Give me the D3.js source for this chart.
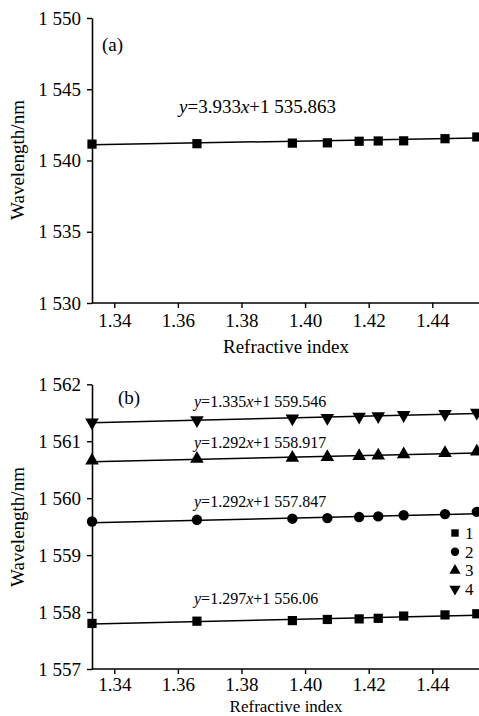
<!DOCTYPE html>
<html>
<head>
<meta charset="utf-8">
<script src="https://cdn.jsdelivr.net/npm/d3@7"></script>
<style>
  html, body { margin: 0; padding: 0; background: #ffffff; }
  svg { display: block; }
  text { font-family: "Liberation Serif", "Times New Roman", serif; fill: #000; }
</style>
</head>
<body>
<svg id="chart" width="479" height="716"></svg>
<script>
// ---- data ----
const refractiveIndex = [1.333, 1.366, 1.396, 1.407, 1.417, 1.423, 1.431, 1.444, 1.454];
const panelAValues = [1541.15, 1541.18, 1541.22, 1541.24, 1541.35, 1541.37, 1541.38, 1541.53, 1541.65];
const series1 = [1557.80, 1557.84, 1557.85, 1557.87, 1557.88, 1557.89, 1557.93, 1557.95, 1557.97];
const series2 = [1559.59, 1559.62, 1559.64, 1559.65, 1559.67, 1559.68, 1559.70, 1559.72, 1559.76];
const series3 = [1560.66, 1560.69, 1560.71, 1560.72, 1560.74, 1560.75, 1560.77, 1560.79, 1560.82];
const series4 = [1561.33, 1561.37, 1561.40, 1561.41, 1561.43, 1561.44, 1561.46, 1561.48, 1561.50];
const seriesNames = ["1", "2", "3", "4"];
const fitA = { slope: 3.933, intercept: 1535.863, label: ["3.933", "+1 535.863"] };
const fitsB = [
  { slope: 1.297, intercept: 1556.06, label: ["1.297", "+1 556.06"] },
  { slope: 1.292, intercept: 1557.847, label: ["1.292", "+1 557.847"] },
  { slope: 1.292, intercept: 1558.917, label: ["1.292", "+1 558.917"] },
  { slope: 1.335, intercept: 1559.546, label: ["1.335", "+1 559.546"] }
];
const xTicks = [1.34, 1.36, 1.38, 1.40, 1.42, 1.44];
const yTicksA = [1530, 1535, 1540, 1545, 1550];
const yTicksB = [1557, 1558, 1559, 1560, 1561, 1562];
const xTitle = "Refractive index";
const yTitle = "Wavelength/nm";

// ---- setup ----
const svg = d3.select("#chart");
const locale = d3.formatLocale({ decimal: ".", thousands: " ", grouping: [3], currency: ["", ""] });
const yFmt = locale.format(",d");
const xFmt = d3.format(".2f");
const FS = 19;

const x = d3.scaleLinear().domain([1.333, 1.455]).range([92, 480]);
const yA = d3.scaleLinear().domain([1530, 1550]).range([303, 18]);
const yB = d3.scaleLinear().domain([1557, 1562]).range([669, 384.3]);

function drawAxes(y, yTicks, bottom, xPad, titleY, titleFs, titleCy) {
  const gx = svg.append("g").attr("transform", `translate(0,${bottom})`)
    .call(d3.axisBottom(x).tickValues(xTicks).tickFormat(xFmt).tickSize(5).tickPadding(xPad).tickSizeOuter(0));
  const gy = svg.append("g").attr("transform", `translate(92,0)`)
    .call(d3.axisLeft(y).tickValues(yTicks).tickFormat(yFmt).tickSize(5).tickPadding(6).tickSizeOuter(0));
  [gx, gy].forEach(g => {
    g.select(".domain").attr("stroke", "#000").attr("stroke-width", 1.6);
    g.selectAll(".tick line").attr("stroke", "#000").attr("stroke-width", 1.4);
    g.selectAll(".tick text").attr("font-family", "Liberation Serif").attr("font-size", FS).attr("fill", "#000");
  });
  gx.select(".domain").attr("d", `M92,0H480`);
  svg.append("text").attr("x", 286).attr("y", titleY)
    .attr("text-anchor", "middle").attr("font-size", titleFs).text(xTitle);
  svg.append("text").attr("transform", `translate(24,${titleCy}) rotate(-90)`)
    .attr("text-anchor", "middle").attr("font-size", FS).text(yTitle);
}

function eqLabel(x0, y0, fit, fs) {
  const t = svg.append("text").attr("x", x0).attr("y", y0).attr("font-size", fs);
  t.append("tspan").attr("font-style", "italic").text("y");
  t.append("tspan").text("=" + fit.label[0]);
  t.append("tspan").attr("font-style", "italic").text("x");
  t.append("tspan").text(fit.label[1]);
}

function fitLine(y, fit) {
  const xs = d3.extent(refractiveIndex);
  svg.append("line")
    .attr("x1", x(xs[0])).attr("y1", y(fit.slope * xs[0] + fit.intercept))
    .attr("x2", x(xs[1])).attr("y2", y(fit.slope * xs[1] + fit.intercept))
    .attr("stroke", "#000").attr("stroke-width", 1.5);
}

const symbols = [d3.symbolSquare, d3.symbolCircle, d3.symbolTriangle, d3.symbolTriangle];
const symSizes = [85, 85, 80, 80];
const rotations = [0, 0, 0, 180];

function markers(y, values, k) {
  svg.append("g").selectAll("path").data(values).join("path")
    .attr("d", d3.symbol(symbols[k], symSizes[k]))
    .attr("transform", (d, i) => `translate(${x(refractiveIndex[i])},${y(d)}) rotate(${rotations[k]})`)
    .attr("fill", "#000");
}

// ---- panel (a) ----
drawAxes(yA, yTicksA, 303, 6, 353, FS, 160);
fitLine(yA, fitA);
markers(yA, panelAValues, 0);
eqLabel(179, 113, fitA, FS);
svg.append("text").attr("x", 102).attr("y", 51).attr("font-size", FS).text("(a)");

// ---- panel (b) ----
drawAxes(yB, yTicksB, 669, 4, 712, 17, 527);
const seriesB = [series1, series2, series3, series4];
seriesB.forEach((vals, k) => { fitLine(yB, fitsB[k]); markers(yB, vals, k); });
const eqY = [604, 507, 448, 407];
fitsB.forEach((f, k) => eqLabel(194, eqY[k], f, 16));
svg.append("text").attr("x", 118).attr("y", 404).attr("font-size", FS).text("(b)");

// legend
const lg = svg.append("g");
seriesNames.forEach((name, k) => {
  const cy = 533 + k * 18.7;
  lg.append("path").attr("d", d3.symbol(symbols[k], 55))
    .attr("transform", `translate(455,${cy}) rotate(${rotations[k]})`).attr("fill", "#000");
  lg.append("text").attr("x", 465).attr("y", cy + 6).attr("font-size", 17).text(name);
});
</script>
</body>
</html>
